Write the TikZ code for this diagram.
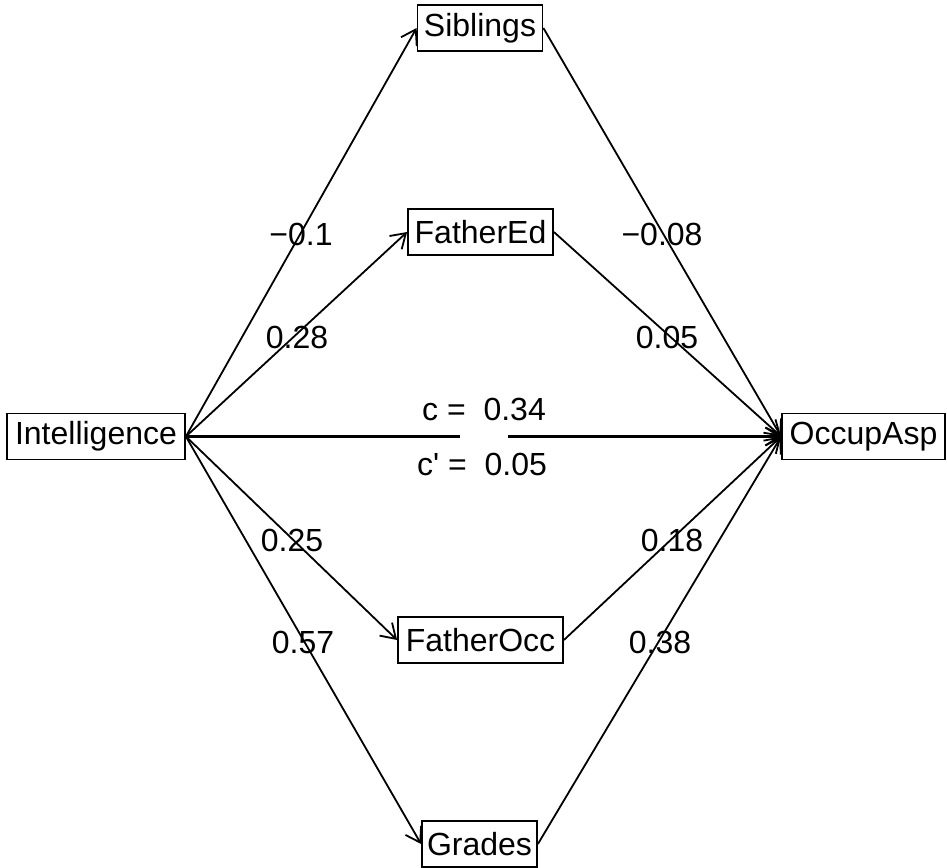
\documentclass[tikz,border=0pt]{standalone}
\usepackage{fontspec}
\newfontfamily\lab{Liberation Sans}
\usetikzlibrary{arrows.meta}
\begin{document}
\begin{tikzpicture}[x=1pt,y=-1pt,
  box/.style={draw,line width=1.8pt,inner sep=0pt,minimum height=46pt,font=\lab\fontsize{32}{36}\selectfont},
  lbl/.style={inner sep=0pt,font=\lab\fontsize{32}{36}\selectfont},
  arr/.style={line width=1.8pt,-{Straight Barb[length=14pt,width=18pt,line width=1.8pt]}},
  ln/.style={line width=2.6pt}]
\path[use as bounding box] (0,0) rectangle (947,867);
\node[box,minimum width=125pt] (sib) at (480,28) {Siblings};
\node[box,minimum width=145pt] (fed) at (480.5,232) {FatherEd};
\node[box,minimum width=178pt] (int) at (96,436.5) {Intelligence};
\node[box,minimum width=163pt] (occ) at (863.5,436.5) {OccupAsp};
\node[box,minimum width=165pt] (foc) at (480.5,640) {FatherOcc};
\node[box,minimum width=115pt] (gra) at (479.5,844) {Grades};
\draw[arr] (int.east) -- (sib.west);
\draw[arr] (int.east) -- (fed.west);
\draw[arr] (int.east) -- (foc.west);
\draw[arr] (int.east) -- (gra.west);
\draw[arr] (sib.east) -- (occ.west);
\draw[arr] (fed.east) -- (occ.west);
\draw[arr] (foc.east) -- (occ.west);
\draw[arr] (gra.east) -- (occ.west);
\coordinate (gl) at (460,436.5);
\coordinate (gr) at (508,436.5);
\draw[ln] (int.east) -- (gl);
\draw[arr,line width=2.6pt] (gr) -- (occ.west);
\node[lbl] (l1) at (301,234) {−0.1};
\node[lbl] (l2) at (297,337) {0.28};
\node[lbl] (l3) at (292,540) {0.25};
\node[lbl] (l4) at (303,642) {0.57};
\node[lbl] (r1) at (662,234) {−0.08};
\node[lbl] (r2) at (667,337) {0.05};
\node[lbl] (r3) at (672,540) {0.18};
\node[lbl] (r4) at (660,642) {0.38};
\node[lbl] (c1) at (484,409) {c = \ 0.34};
\node[lbl] (c2) at (482,464) {c' = \ 0.05};
\end{tikzpicture}
\end{document}
